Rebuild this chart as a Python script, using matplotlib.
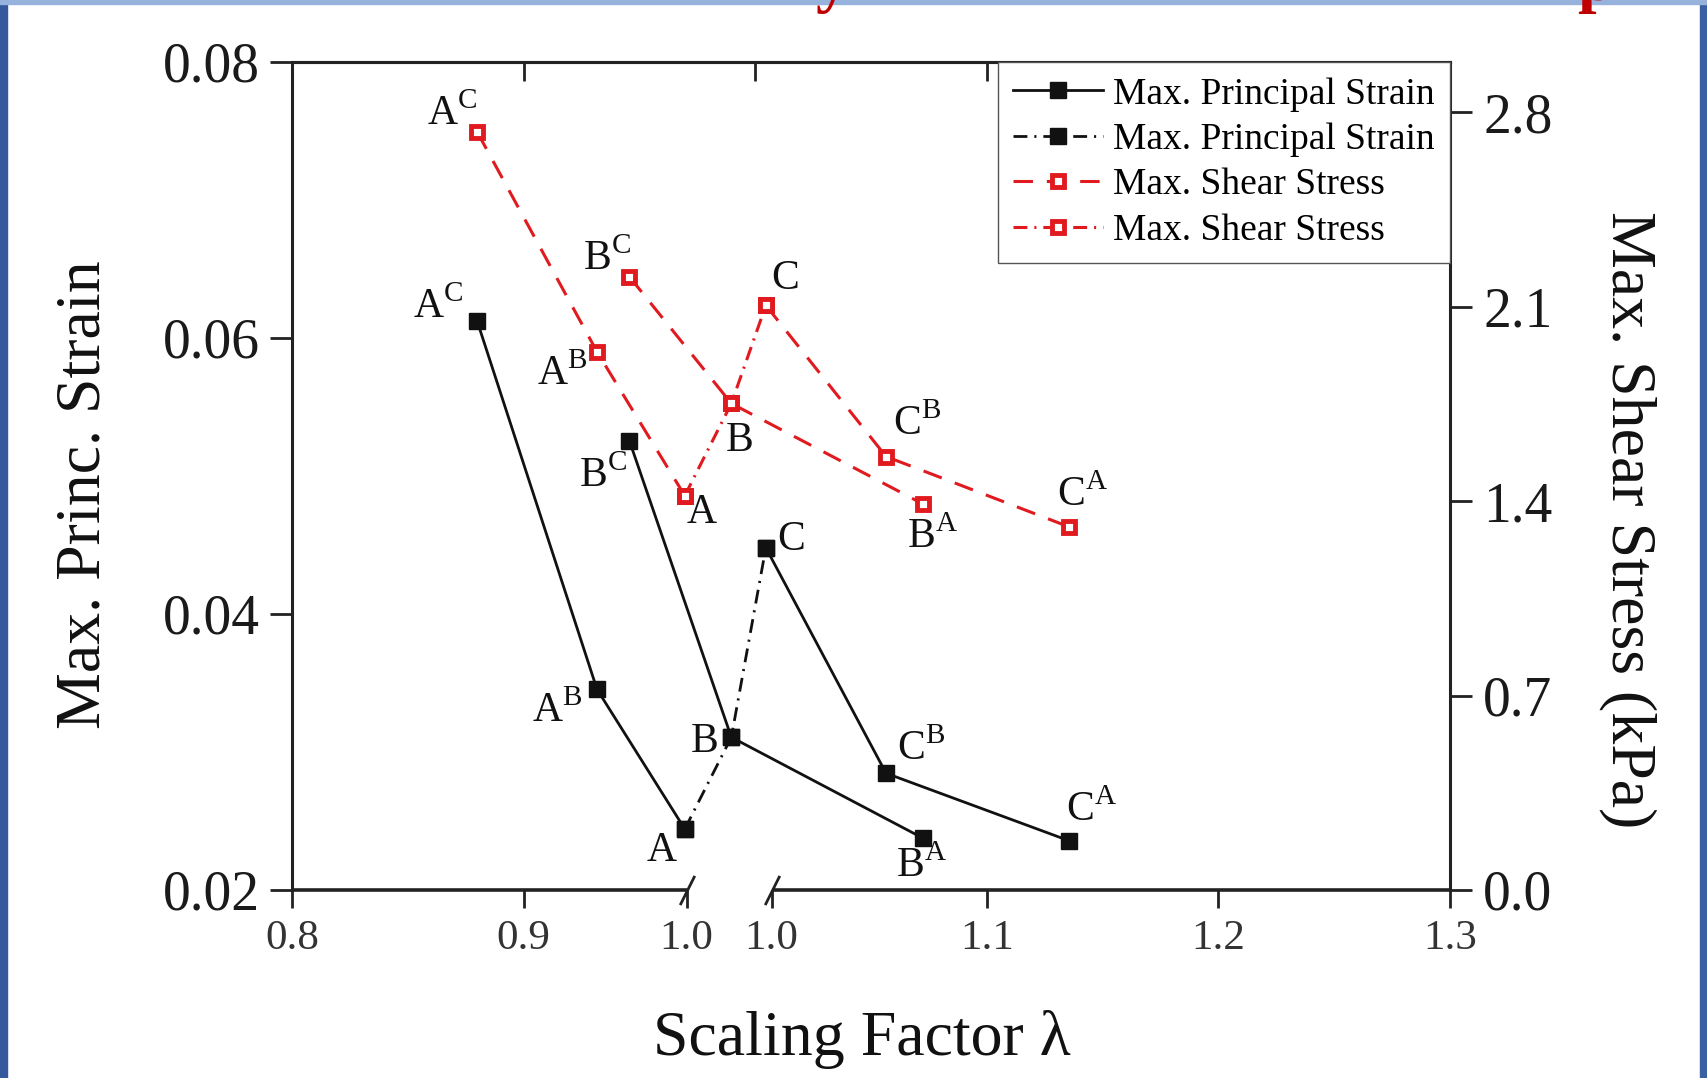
"""Max. principal strain / max. shear stress vs scaling factor (broken x axis)."""
import matplotlib
matplotlib.use("Agg")
import matplotlib.pyplot as plt
from matplotlib.patches import Rectangle
from matplotlib.ticker import NullFormatter

plt.rcParams["font.family"] = ["Liberation Serif", "DejaVu Serif"]
plt.rcParams["mathtext.fontset"] = "custom"
plt.rcParams["mathtext.rm"] = "Liberation Serif"
plt.rcParams["lines.scale_dashes"] = False

# points, lambda read on a linear 0.8-1.3 axis (axis break sits near 1.0)
POINTS = ["A^C", "A^B", "A", "B^C", "B", "B^A", "C", "C^B", "C^A"]
LAMBDA = [0.8799, 0.9317, 0.9696, 0.9457, 0.9897, 1.0725, 1.0046, 1.0565, 1.1355]
STRAIN = [0.06125, 0.03454, 0.02442, 0.05254, 0.03107, 0.02375, 0.0448, 0.02846, 0.02357]
SHEAR_KPA = [2.729, 1.937, 1.419, 2.207, 1.751, 1.389, 2.104, 1.560, 1.307]

SOLID_GROUPS = [[0, 1, 2], [3, 4, 5], [6, 7, 8]]
DASHDOT_GROUP = [2, 4, 6]

BREAK = [0.9704, 1.0071]
X_TICKS = [0.8, 0.9, BREAK[0], BREAK[1], 1.1, 1.2, 1.3]
X_TICKLABELS = ["0.8", "0.9", "1.0", "1.0", "1.1", "1.2", "1.3"]
TOP_TICKS = [0.9, 1.0, 1.1, 1.2]
Y_TICKS = [0.02, 0.04, 0.06, 0.08]
Y2_TICKS = [0.0, 0.7, 1.4, 2.1, 2.8]

# label offsets in points
BLACK_OFFSETS = [(-28, 10), (-29, -16), (-16.5, -16), (-19, -25), (-19, -3),
                 (-1.5, -20), (18, 5.5), (25, 17), (16, 22)]
RED_OFFSETS = [(-18, 12.5), (-25, -16), (12, -12), (-16, 12.5), (6, -27),
               (7, -23.5), (14, 19), (22, 23.5), (9.5, 23)]

BLACK = "#111111"
RED = "#e01a1f"
SPINE = "#222222"

W, H = 1708, 1078
fig = plt.figure(figsize=(W / 100, H / 100), dpi=100)

# screenshot frame
fig.patches.append(Rectangle((0, 0), 7 / W, 1, transform=fig.transFigure,
                             color="#34599c", zorder=0))
fig.patches.append(Rectangle((1 - 8 / W, 0), 8 / W, 1, transform=fig.transFigure,
                             color="#3a5fa3", zorder=0))
fig.patches.append(Rectangle((0, 1 - 4 / H), 1, 4 / H, transform=fig.transFigure,
                             color="#98b2de", zorder=0))
# slide title above the figure, only its descenders show in the screenshot
for ch, xpx in [("y", 832), ("p", 1596)]:
    fig.text(xpx / W, 1.0, ch, color="#c00000", fontsize=48, fontweight="bold",
             ha="center", va="baseline", zorder=5)

ax = fig.add_axes([292 / W, 188 / H, 1158 / W, 828 / H])
ax2 = ax.twinx()

dash = (0, (14, 10))
dashdot = (0, (10, 5, 1.5, 5))

# black: max principal strain
handles = []
for i, g in enumerate(SOLID_GROUPS):
    (h,) = ax.plot([LAMBDA[k] for k in g], [STRAIN[k] for k in g], color=BLACK,
                   lw=2.0, marker="s", ms=11, mfc=BLACK, mec=BLACK)
    if i == 0:
        handles.append(h)
(h,) = ax.plot([LAMBDA[k] for k in DASHDOT_GROUP], [STRAIN[k] for k in DASHDOT_GROUP],
               color=BLACK, lw=2.0, ls=dashdot, marker="s", ms=11, mfc=BLACK, mec=BLACK)
handles.append(h)

# red: max shear stress
for i, g in enumerate(SOLID_GROUPS):
    (h,) = ax2.plot([LAMBDA[k] for k in g], [SHEAR_KPA[k] for k in g], color=RED,
                    lw=2.2, ls=dash, marker="s", ms=8, mfc="white", mec=RED, mew=3.5)
    if i == 0:
        handles.append(h)
(h,) = ax2.plot([LAMBDA[k] for k in DASHDOT_GROUP], [SHEAR_KPA[k] for k in DASHDOT_GROUP],
                color=RED, lw=2.2, ls=dashdot, marker="s", ms=8, mfc="white", mec=RED, mew=3.5)
handles.append(h)


def pretty(name):
    if "^" in name:
        base, sup = name.split("^")
        return r"$\mathrm{%s}^{\mathrm{%s}}$" % (base, sup)
    return name


for k, name in enumerate(POINTS):
    ax.annotate(pretty(name), (LAMBDA[k], STRAIN[k]), xytext=BLACK_OFFSETS[k],
                textcoords="offset points", ha="center", va="center",
                fontsize=30, color="#111111")
    ax2.annotate(pretty(name), (LAMBDA[k], SHEAR_KPA[k]), xytext=RED_OFFSETS[k],
                 textcoords="offset points", ha="center", va="center",
                 fontsize=30, color="#111111")

# axes limits and ticks
ax.set_xlim(0.8, 1.3)
ax.set_ylim(0.02, 0.08)
ax2.set_ylim(0.0, 2.98)

ax.set_xticks(X_TICKS, X_TICKLABELS)
ax.set_yticks(Y_TICKS, [f"{v:.2f}" for v in Y_TICKS])
ax2.set_yticks(Y2_TICKS, [f"{v:.1f}" for v in Y2_TICKS])

ax.tick_params(axis="x", direction="out", length=13, width=2, labelsize=31,
               pad=8, labelcolor="#333333", color=SPINE)
ax.tick_params(axis="y", direction="out", length=16, width=2, labelsize=40,
               pad=7, color=SPINE, labelcolor="#1a1a1a")
ax2.tick_params(axis="y", direction="out", length=16, width=2, labelsize=40,
                pad=8, color=SPINE, labelcolor="#1a1a1a")

sec = ax.secondary_xaxis("top")
sec.set_xticks(TOP_TICKS)
sec.xaxis.set_major_formatter(NullFormatter())
sec.tick_params(direction="in", length=14, width=2, color=SPINE)
sec.spines["top"].set_linewidth(2.2)
sec.spines["top"].set_color(SPINE)

for s in ["left", "top"]:
    ax.spines[s].set_linewidth(2.2)
    ax.spines[s].set_color(SPINE)
ax.spines["right"].set_visible(False)
ax.spines["bottom"].set_visible(False)
for s in ["left", "top", "bottom"]:
    ax2.spines[s].set_visible(False)
ax2.spines["right"].set_linewidth(2.2)
ax2.spines["right"].set_color(SPINE)

# broken bottom axis
xt = ax.get_xaxis_transform()
ax.plot([0.8, BREAK[0]], [0, 0], transform=xt, color=SPINE, lw=2.6,
        clip_on=False, solid_capstyle="butt")
ax.plot([BREAK[1], 1.3], [0, 0], transform=xt, color=SPINE, lw=2.6,
        clip_on=False, solid_capstyle="butt")
ax.plot(BREAK, [0, 0], transform=xt, ls="none", marker=[(-0.5, -1), (0.5, 1)],
        ms=21, mew=2, color=SPINE, clip_on=False)

# labels
ax.set_xlabel(r"Scaling Factor λ", fontsize=46, va="center", color="#111111")
ax.xaxis.set_label_coords(0.492, -0.181)
ax.set_ylabel("Max. Princ. Strain", fontsize=46, ha="center", va="center",
              color="#111111")
ax.yaxis.set_label_coords(-0.1796, 0.477)
ax2.set_ylabel("Max. Shear Stress (kPa)", fontsize=46, rotation=270,
               ha="center", va="center", color="#111111")
ax2.yaxis.set_label_coords(1.1537, 0.447)

leg = ax2.legend(handles, ["Max. Principal Strain", "Max. Principal Strain",
                           "Max. Shear Stress", "Max. Shear Stress"],
                 loc="upper right", borderaxespad=0, fontsize=27, frameon=True,
                 fancybox=False, edgecolor="#555555", framealpha=1,
                 handlelength=2.4, handletextpad=0.27, borderpad=0.4,
                 labelspacing=0.29, numpoints=1)
leg.get_frame().set_linewidth(1.0)

fig.savefig("out.png", dpi=100)
